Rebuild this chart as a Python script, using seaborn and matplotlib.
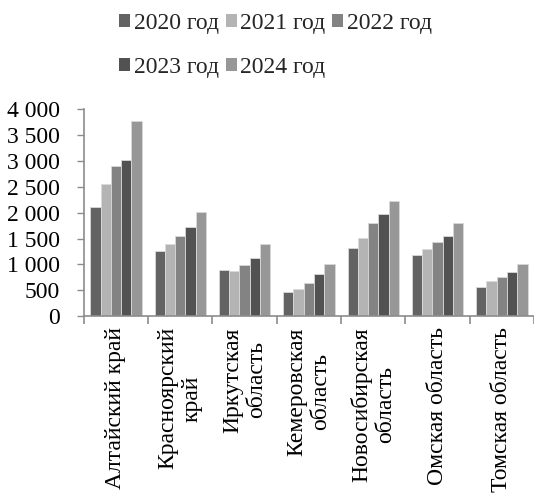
import numpy as np
import pandas as pd
import matplotlib
matplotlib.use("Agg")
import matplotlib.pyplot as plt
import seaborn as sns
from matplotlib import font_manager
from matplotlib.ticker import FuncFormatter, FixedLocator

regions = [
    "Алтайский край",
    "Красноярский\nкрай",
    "Иркутская\nобласть",
    "Кемеровская\nобласть",
    "Новосибирская\nобласть",
    "Омская область",
    "Томская область",
]
years = ["2020 год", "2021 год", "2022 год", "2023 год", "2024 год"]

v2020 = [2110, 1260, 890, 465, 1325, 1185, 560]
v2021 = [2560, 1390, 875, 520, 1520, 1295, 670]
v2022 = [2900, 1545, 990, 650, 1810, 1425, 765]
v2023 = [3025, 1725, 1120, 810, 1965, 1545, 855]
v2024 = [3765, 2010, 1395, 1000, 2235, 1810, 1000]

colors = ["#636363", "#b4b4b4", "#838383", "#525252", "#979797"]

df = pd.DataFrame({
    "region": np.tile(regions, len(years)),
    "year": np.repeat(years, len(regions)),
    "value": v2020 + v2021 + v2022 + v2023 + v2024,
})

sns.set_theme(style="white")
plt.rcParams["font.family"] = "serif"
plt.rcParams["font.serif"] = ["Liberation Serif", "Times New Roman", "DejaVu Serif"]
plt.rcParams["font.size"] = 17
fp = font_manager.FontProperties(family=["Liberation Serif", "DejaVu Serif"], size=17)

fig = plt.figure(figsize=(5.34, 5.01), dpi=100)
ax = fig.add_axes([0.157, 0.369, 0.843, 0.413])

sns.barplot(data=df, x="region", y="value", hue="year", order=regions,
            hue_order=years, palette=colors, width=0.8, ax=ax,
            edgecolor="#d9d9d9", linewidth=0.6, errorbar=None)

ax.set_ylim(0, 4000)
ax.set_xlim(-0.5, len(regions) - 0.5)
ax.set_yticks(np.arange(0, 4001, 500))
ax.yaxis.set_major_formatter(FuncFormatter(lambda v, p: f"{int(v):,}".replace(",", " ")))
ax.set_xlabel("")
ax.set_ylabel("")

for s in ["top", "right"]:
    ax.spines[s].set_visible(False)
for s in ["left", "bottom"]:
    ax.spines[s].set_color("#8c8c8c")
    ax.spines[s].set_linewidth(1.2)

ax.tick_params(axis="y", which="major", length=5, width=1, color="#8c8c8c",
               left=True, pad=12, labelcolor="black")
ax.tick_params(axis="x", which="major", length=0, pad=8, labelcolor="black")
ax.xaxis.set_minor_locator(FixedLocator(np.arange(-0.5, len(regions), 1.0)))
ax.tick_params(axis="x", which="minor", length=6, width=1.2, color="#8c8c8c",
               bottom=True)
for lab in ax.get_yticklabels():
    lab.set_fontproperties(fp)
for lab in ax.get_xticklabels():
    lab.set_fontproperties(fp)
    lab.set_rotation(90)
    lab.set_multialignment("center")
    lab.set_verticalalignment("top")
    lab.set_horizontalalignment("center")

ax.get_legend().remove()
handles = [plt.Rectangle((0, 0), 1, 1, facecolor=c, edgecolor="none") for c in colors]
# legend fills column by column; order entries so rows read 2020-2022, 2023-2024
order = [0, 3, 1, 4, 2]
fig.legend([handles[i] for i in order], [years[i] for i in order],
           loc="upper left", bbox_to_anchor=(0.197, 1.003),
           ncol=3, frameon=False, prop=fp, handlelength=0.47,
           handleheight=0.47, handletextpad=0.15, columnspacing=0.28,
           labelspacing=1.0, borderaxespad=0.2)

fig.savefig("out.png", dpi=100, facecolor="white")
